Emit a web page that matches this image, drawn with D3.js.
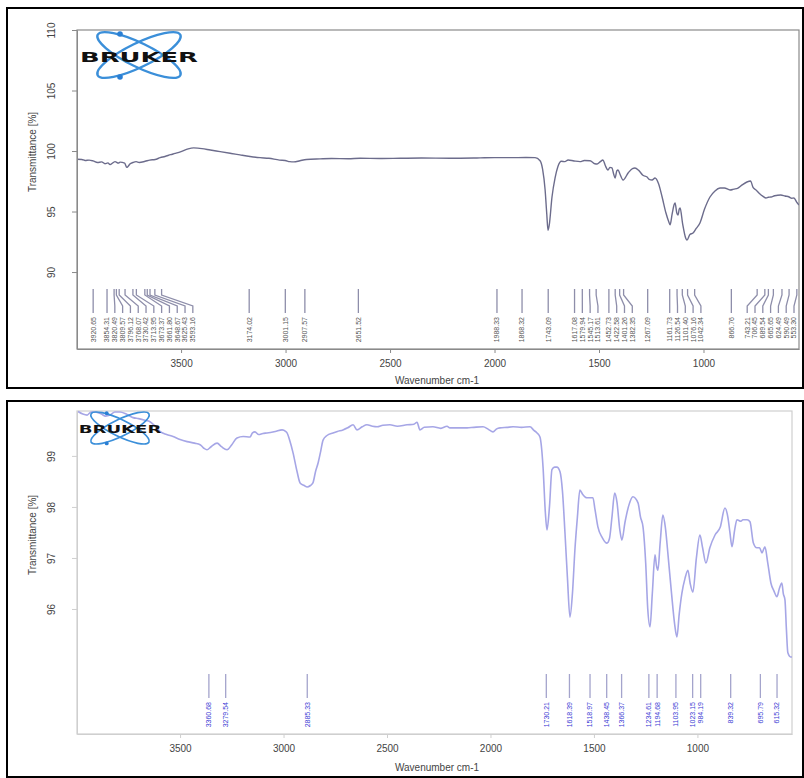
<!DOCTYPE html>
<html>
<head>
<meta charset="utf-8">
<script src="https://cdnjs.cloudflare.com/ajax/libs/d3/7.8.5/d3.min.js"></script>
<style>
  body { margin: 0; background: #fff; }
  svg { display: block; font-family: "Liberation Sans", Arial, sans-serif; }
</style>
</head>
<body>
<div id="chart"></div>
<script>
// Spectrum 1 (top): wavenumber cm-1 / transmittance %
const topWavenumber = [3998, 3975, 3959, 3940, 3921, 3900, 3880, 3864, 3850, 3840, 3825, 3816, 3800, 3792, 3770, 3760, 3754, 3745, 3730, 3715, 3700, 3672, 3650, 3624, 3600, 3577, 3550, 3529, 3500, 3466, 3440, 3420, 3400, 3360, 3313, 3260, 3218, 3170, 3122, 3080, 3029, 3002, 2980, 2960, 2931, 2900, 2835, 2780, 2700, 2643, 2550, 2452, 2350, 2213, 2100, 2069, 2000, 1926, 1850, 1806, 1782, 1770, 1758, 1750, 1744, 1738, 1725, 1710, 1697, 1680, 1663, 1648, 1620, 1591, 1570, 1543, 1520, 1509, 1495, 1481, 1470, 1457, 1448, 1438, 1430, 1423, 1415, 1409, 1400, 1385, 1360, 1340, 1328, 1310, 1290, 1270, 1260, 1246, 1232, 1215, 1198, 1180, 1165, 1160, 1150, 1140, 1136, 1128, 1122, 1116, 1112, 1100, 1085, 1079, 1065, 1050, 1035, 1017, 995, 969, 945, 921, 900, 873, 855, 835, 815, 792, 775, 763, 750, 735, 715, 701, 690, 677, 660, 645, 630, 610, 590, 578, 567, 555, 543];
const topTransmittance = [99.32, 99.30, 99.22, 99.25, 99.18, 99.05, 99.10, 98.95, 99.02, 98.88, 99.05, 99.12, 99.00, 99.08, 99.00, 98.65, 98.72, 98.92, 99.05, 99.12, 99.05, 99.15, 99.25, 99.30, 99.45, 99.55, 99.70, 99.80, 99.95, 100.18, 100.26, 100.24, 100.20, 100.08, 99.95, 99.80, 99.68, 99.55, 99.45, 99.40, 99.25, 99.22, 99.12, 99.10, 99.20, 99.30, 99.35, 99.38, 99.36, 99.40, 99.38, 99.40, 99.42, 99.40, 99.42, 99.43, 99.45, 99.45, 99.46, 99.45, 99.20, 98.50, 96.80, 94.80, 93.45, 93.90, 96.20, 97.80, 98.70, 99.15, 99.12, 99.26, 99.18, 99.12, 99.22, 99.20, 98.95, 98.93, 99.10, 99.26, 98.80, 98.43, 98.65, 98.60, 98.10, 97.77, 98.35, 98.43, 98.10, 97.60, 98.20, 98.55, 98.60, 98.40, 98.00, 97.85, 97.65, 97.60, 97.77, 97.30, 96.20, 94.90, 94.10, 93.90, 94.80, 95.60, 95.70, 94.90, 94.70, 95.20, 95.30, 94.00, 92.80, 92.64, 93.10, 93.22, 93.60, 94.05, 95.20, 96.20, 96.70, 96.94, 96.95, 96.78, 96.85, 96.94, 97.20, 97.44, 97.52, 97.00, 96.80, 96.53, 96.25, 96.12, 96.18, 96.20, 96.30, 96.35, 96.36, 96.28, 96.20, 96.10, 96.12, 95.80, 95.54];
const topPeaks = ["3920.65", "3854.31", "3820.49", "3809.57", "3796.12", "3768.07", "3730.42", "3713.95", "3673.37", "3661.80", "3648.67", "3625.43", "3593.16", "3174.02", "3001.15", "2907.57", "2651.52", "1988.33", "1868.32", "1743.09", "1617.08", "1579.94", "1545.17", "1513.61", "1452.73", "1422.58", "1401.26", "1382.35", "1267.09", "1161.73", "1126.54", "1101.40", "1076.16", "1042.34", "866.76", "743.21", "706.45", "689.54", "665.65", "624.49", "590.49", "553.30"];
const topYTicks = [90, 95, 100, 105, 110];

// Spectrum 2 (bottom)
const bottomWavenumber = [3993, 3970, 3949, 3930, 3911, 3880, 3860, 3838, 3815, 3790, 3760, 3727, 3700, 3670, 3645, 3620, 3597, 3565, 3534, 3500, 3466, 3430, 3403, 3385, 3370, 3350, 3321, 3300, 3273, 3250, 3225, 3195, 3162, 3150, 3138, 3120, 3100, 3080, 3040, 3007, 2990, 2983, 2970, 2954, 2935, 2920, 2900, 2886, 2870, 2858, 2845, 2833, 2820, 2809, 2790, 2761, 2740, 2713, 2690, 2664, 2645, 2620, 2597, 2570, 2548, 2520, 2486, 2450, 2403, 2370, 2355, 2341, 2320, 2278, 2240, 2210, 2196, 2150, 2113, 2080, 2036, 2010, 1988, 1970, 1954, 1920, 1891, 1850, 1809, 1790, 1775, 1761, 1746, 1735, 1727, 1715, 1703, 1690, 1679, 1664, 1652, 1640, 1628, 1616, 1604, 1592, 1580, 1568, 1555, 1534, 1520, 1505, 1495, 1481, 1460, 1437, 1425, 1413, 1400, 1389, 1375, 1365, 1350, 1330, 1312, 1287, 1275, 1263, 1250, 1240, 1229, 1218, 1205, 1198, 1191, 1180, 1167, 1155, 1143, 1125, 1110, 1099, 1088, 1075, 1060, 1046, 1035, 1022, 1005, 988, 975, 959, 940, 915, 890, 867, 853, 843, 833, 820, 809, 790, 780, 760, 746, 730, 713, 700, 688, 674, 660, 645, 630, 616, 604, 592, 585, 577, 570, 563, 550, 543];
const bottomTransmittance = [99.87, 99.82, 99.80, 99.86, 99.86, 99.82, 99.78, 99.80, 99.86, 99.86, 99.82, 99.75, 99.73, 99.70, 99.67, 99.58, 99.48, 99.42, 99.38, 99.32, 99.28, 99.25, 99.22, 99.15, 99.12, 99.18, 99.25, 99.18, 99.12, 99.22, 99.35, 99.38, 99.37, 99.45, 99.47, 99.42, 99.44, 99.45, 99.48, 99.51, 99.48, 99.45, 99.30, 99.06, 98.70, 98.47, 98.42, 98.39, 98.42, 98.47, 98.70, 98.86, 99.10, 99.31, 99.40, 99.45, 99.48, 99.51, 99.55, 99.61, 99.51, 99.57, 99.61, 99.58, 99.57, 99.60, 99.61, 99.58, 99.61, 99.62, 99.66, 99.51, 99.56, 99.57, 99.54, 99.58, 99.55, 99.55, 99.55, 99.56, 99.57, 99.52, 99.47, 99.53, 99.55, 99.56, 99.57, 99.56, 99.57, 99.50, 99.45, 99.37, 98.78, 97.90, 97.55, 98.00, 98.73, 98.78, 98.78, 98.69, 98.30, 97.49, 96.60, 95.84, 96.30, 97.16, 97.80, 98.33, 98.25, 98.18, 98.18, 98.18, 97.95, 97.61, 97.40, 97.29, 97.38, 97.80, 98.27, 98.10, 97.55, 97.35, 97.70, 98.05, 98.20, 98.08, 97.80, 97.61, 96.90, 96.00, 95.65, 96.30, 97.06, 96.85, 96.76, 97.30, 97.84, 97.60, 97.10, 96.30, 95.70, 95.45, 95.90, 96.31, 96.60, 96.76, 96.50, 96.33, 97.00, 97.45, 97.20, 96.90, 97.20, 97.45, 97.60, 97.98, 97.80, 97.50, 97.22, 97.55, 97.75, 97.72, 97.75, 97.75, 97.71, 97.30, 97.20, 97.20, 97.10, 97.22, 96.90, 96.51, 96.35, 96.24, 96.40, 96.51, 96.30, 96.18, 95.60, 95.14, 95.06, 95.06];
const bottomPeaks = ["3360.68", "3279.54", "2885.33", "1730.21", "1618.39", "1518.97", "1438.45", "1366.37", "1234.61", "1194.68", "1103.95", "1023.15", "984.19", "839.32", "695.79", "615.32"];
const bottomYTicks = [96, 97, 98, 99];

const xTicks = [3500, 3000, 2500, 2000, 1500, 1000];
const xDomain = [3998, 543];

const svg = d3.select("#chart").append("svg")
  .attr("width", 804)
  .attr("height", 778);

function spreadLabels(xs, gap, maxX) {
  const pos = xs.slice();
  for (let i = 1; i < pos.length; i++) pos[i] = Math.max(pos[i], pos[i - 1] + gap);
  if (pos[pos.length - 1] > maxX) {
    pos[pos.length - 1] = maxX;
    for (let i = pos.length - 2; i >= 0; i--) pos[i] = Math.min(pos[i], pos[i + 1] - gap);
  }
  return pos;
}

function drawLogo(cx, cy, s) {
  const g = svg.append("g").attr("transform", `translate(${cx},${cy}) scale(${s})`);
  [26, -26].forEach(a => {
    g.append("ellipse")
      .attr("rx", 46).attr("ry", 12)
      .attr("transform", `rotate(${a})`)
      .attr("fill", "none")
      .attr("stroke", "#3b8fd9")
      .attr("stroke-width", 2.4);
  });
  [[-19, -21], [-19, 22]].forEach(([dx, dy]) => {
    g.append("circle").attr("cx", dx).attr("cy", dy).attr("r", 2.8).attr("fill", "#2a7fd4");
  });
  g.append("text")
    .attr("x", -59).attr("y", 7)
    .attr("textLength", 118)
    .attr("lengthAdjust", "spacingAndGlyphs")
    .style("font-family", "DejaVu Sans, sans-serif")
    .style("font-weight", "bold")
    .style("font-size", "14px")
    .attr("fill", "#111")
    .text("BRUKER");
}

function drawPanel(cfg) {
  // outer frame
  svg.append("rect")
    .attr("x", cfg.frame[0]).attr("y", cfg.frame[1])
    .attr("width", cfg.frame[2]).attr("height", cfg.frame[3])
    .attr("fill", "none").attr("stroke", "#000").attr("stroke-width", 2);

  const [left, top, right, bottom] = cfg.plot;
  const x = d3.scaleLinear().domain(xDomain).range([left, right]);
  const y = d3.scaleLinear().domain(cfg.yDomain).range([bottom, top]);

  svg.append("rect")
    .attr("x", left).attr("y", top)
    .attr("width", right - left).attr("height", bottom - top)
    .attr("fill", "none").attr("stroke", cfg.axisColor).attr("stroke-width", 1.2);

  const clipId = "clip" + cfg.id;
  svg.append("clipPath").attr("id", clipId)
    .append("rect").attr("x", left).attr("y", top - 1)
    .attr("width", right - left).attr("height", bottom - top + 1);

  const points = cfg.wn.map((w, i) => [w, cfg.t[i]]);
  svg.append("path")
    .datum(points)
    .attr("clip-path", `url(#${clipId})`)
    .attr("fill", "none")
    .attr("stroke", cfg.lineColor)
    .attr("stroke-width", cfg.lineWidth)
    .attr("stroke-linejoin", "round")
    .attr("d", d3.line().x(d => x(d[0])).y(d => y(d[1])).curve(d3.curveMonotoneX));

  // x axis
  const xAxis = svg.append("g")
    .attr("transform", `translate(0,${bottom})`)
    .call(d3.axisBottom(x).tickValues(xTicks).tickSize(4).tickSizeOuter(0).tickPadding(7).tickFormat(d3.format("d")));
  xAxis.select(".domain").attr("stroke", cfg.axisColor);
  xAxis.selectAll(".tick line").attr("stroke", cfg.axisColor);
  xAxis.selectAll("text").attr("fill", "#444").style("font-size", "10px");

  // y axis, labels parallel to the axis
  const yAxis = svg.append("g")
    .attr("transform", `translate(${left},0)`)
    .call(d3.axisLeft(y).tickValues(cfg.yTicks).tickSize(5).tickSizeOuter(0).tickFormat(d3.format("d")));
  yAxis.select(".domain").attr("stroke", cfg.axisColor);
  yAxis.selectAll(".tick line").attr("stroke", cfg.axisColor);
  yAxis.selectAll("text")
    .attr("transform", "rotate(-90)")
    .attr("x", 0).attr("y", -22).attr("dy", 0)
    .attr("text-anchor", "middle")
    .attr("fill", "#444").style("font-size", "10px");

  svg.append("text")
    .attr("transform", `translate(36,${cfg.yTitleY}) rotate(-90)`)
    .attr("text-anchor", "middle")
    .attr("fill", "#444").style("font-size", "10px")
    .text("Transmittance [%]");

  svg.append("text")
    .attr("x", 437).attr("y", cfg.xTitleY)
    .attr("text-anchor", "middle")
    .attr("fill", "#444").style("font-size", "10px")
    .text("Wavenumber cm-1");

  // peak labels
  const peakX = cfg.peaks.map(p => x(+p));
  const labelX = spreadLabels(peakX, cfg.gap, right - 5);
  const y0 = bottom - 60, y1 = bottom - 54, y2 = bottom - 43, y3 = bottom - 36;
  const peaks = svg.append("g");
  cfg.peaks.forEach((p, i) => {
    peaks.append("path")
      .attr("d", `M${peakX[i]},${y0}V${y1}L${labelX[i]},${y2}V${y3}`)
      .attr("fill", "none")
      .attr("stroke", cfg.peakLineColor)
      .attr("stroke-width", 1.3);
    peaks.append("text")
      .attr("transform", `translate(${labelX[i]},${bottom - 32}) rotate(-90)`)
      .attr("text-anchor", "end")
      .attr("dy", "0.35em")
      .attr("fill", cfg.peakTextColor)
      .style("font-size", "7px")
      .text(p);
  });

  drawLogo(cfg.logo[0], cfg.logo[1], cfg.logo[2]);
}

drawPanel({
  id: "top",
  frame: [7, 8, 796, 380],
  plot: [77, 30, 799, 349],
  yDomain: [83.64, 110],
  yTicks: topYTicks,
  wn: topWavenumber,
  t: topTransmittance,
  peaks: topPeaks,
  gap: 7.8,
  axisColor: "#8a8a8a",
  lineColor: "#6c6c8c",
  lineWidth: 1.4,
  peakLineColor: "#8e8eaa",
  peakTextColor: "#555",
  yTitleY: 152,
  xTitleY: 384,
  logo: [139, 55, 1]
});

drawPanel({
  id: "bottom",
  frame: [7, 401, 796, 376],
  plot: [77, 411, 792, 734],
  yDomain: [93.55, 99.88],
  yTicks: bottomYTicks,
  wn: bottomWavenumber,
  t: bottomTransmittance,
  peaks: bottomPeaks,
  gap: 7.8,
  axisColor: "#cfcfcf",
  lineColor: "#a6a6e6",
  lineWidth: 1.6,
  peakLineColor: "#a4a4cc",
  peakTextColor: "#3a3ad4",
  yTitleY: 535,
  xTitleY: 771,
  logo: [120, 428, 0.7]
});
</script>
</body>
</html>
